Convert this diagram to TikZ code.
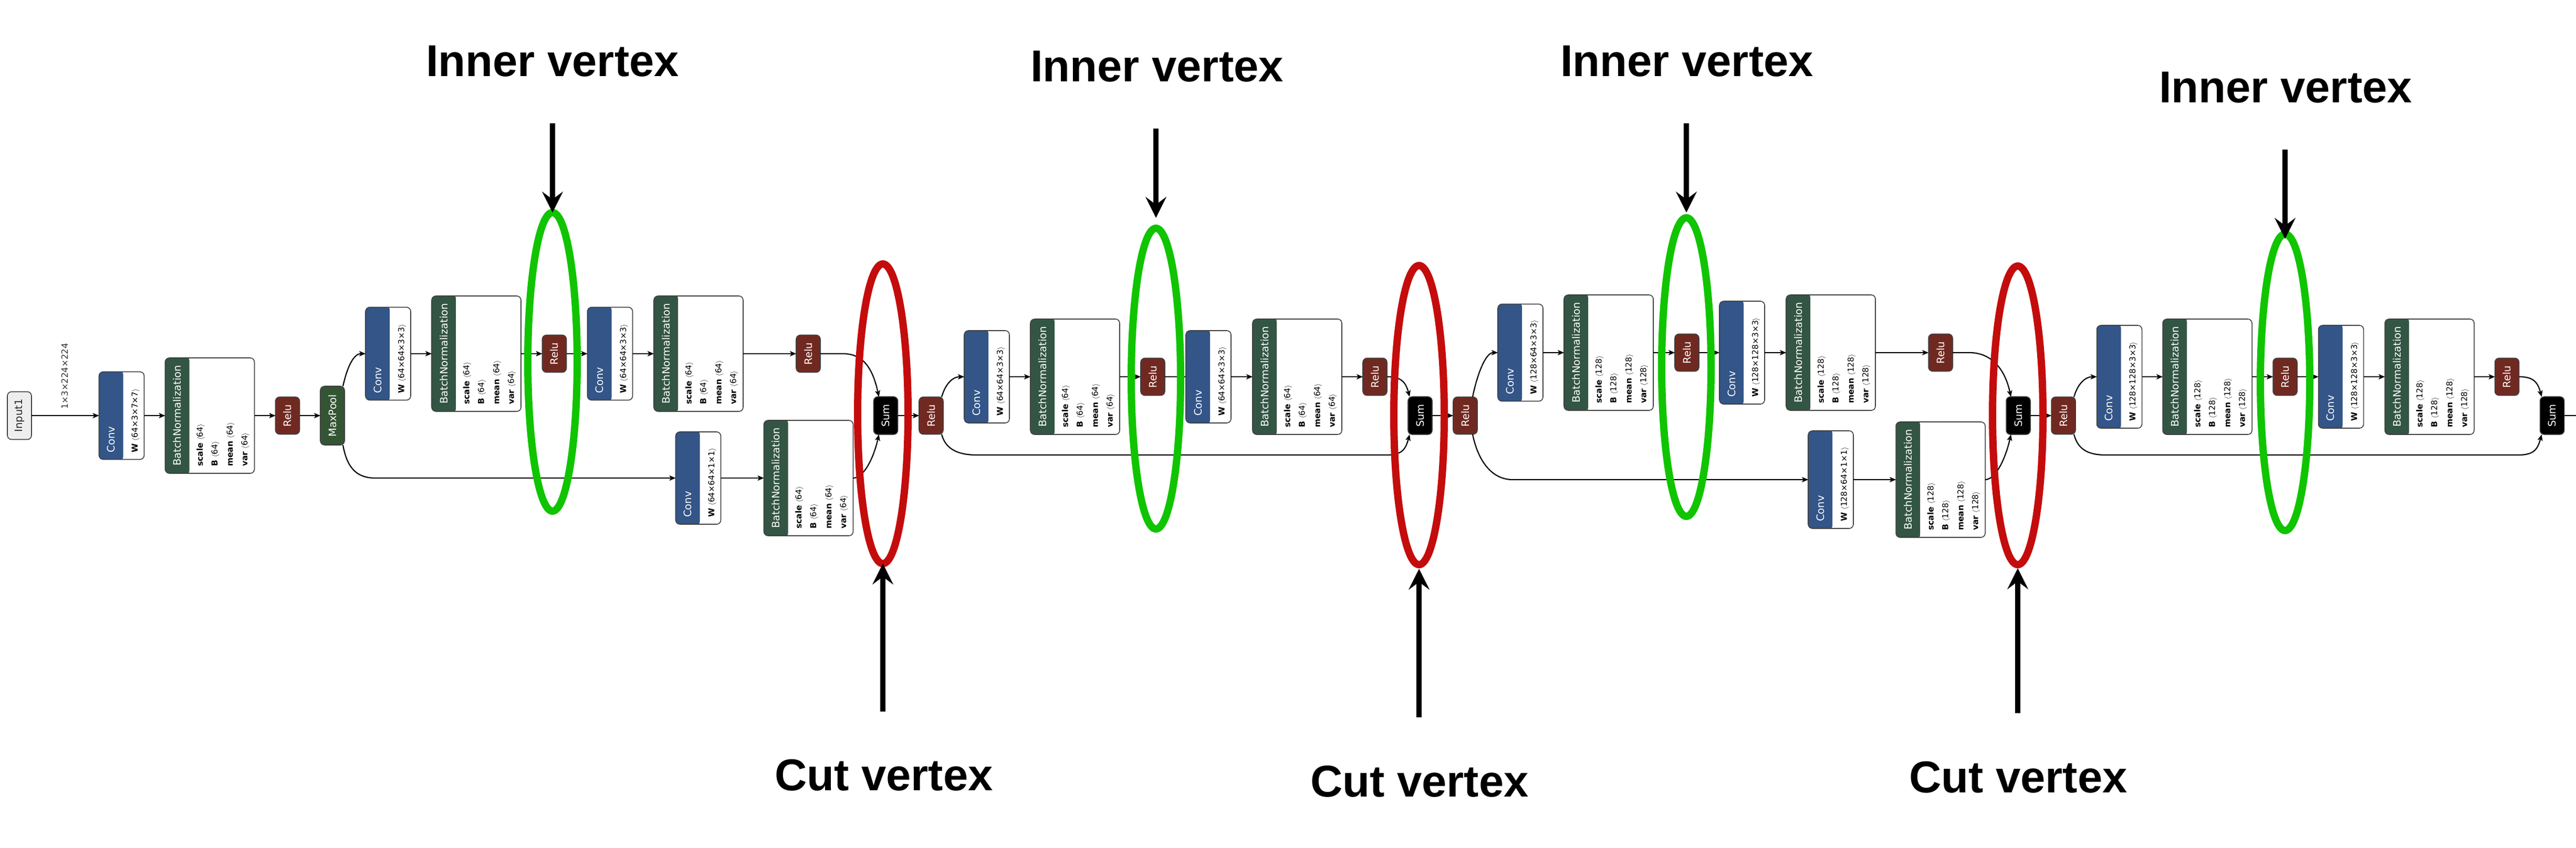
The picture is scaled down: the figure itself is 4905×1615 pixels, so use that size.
\documentclass[tikz,border=0pt]{standalone}
\usepackage{fontspec}
\usepackage{graphicx}
\usetikzlibrary{arrows.meta,calc,shapes.geometric}
\setmainfont{DejaVu Sans}
\newfontfamily\nfont{DejaVu Sans}
\newfontfamily\lblfont{Liberation Sans}
\definecolor{convcol}{RGB}{51,85,136}
\definecolor{bncol}{RGB}{51,85,68}
\definecolor{relucol}{RGB}{112,41,33}
\definecolor{poolcol}{RGB}{51,85,51}
\definecolor{nborder}{RGB}{64,64,64}
\definecolor{inputfill}{RGB}{238,238,238}
\definecolor{ringgreen}{RGB}{16,196,0}
\definecolor{ringred}{RGB}{196,12,12}
\newcommand\htfont{\nfont\fontsize{19.5}{23}\selectfont}
\newcommand\atfont{\nfont\fontsize{15.5}{18}\selectfont}
\newcommand\shfont{\nfont\fontsize{16.5}{20}\selectfont}
\newcommand\biglblfont{\lblfont\bfseries\fontsize{85}{100}\selectfont}
\tikzset{
  opbox/.style={draw=nborder, line width=1.6pt, rounded corners=8pt, inner sep=0pt, outer sep=0pt, fill=white},
  hdr/.style={path picture={\fill[#1] ([xshift=-3pt,yshift=-3pt]path picture bounding box.south west) rectangle ([xshift=46pt,yshift=3pt]path picture bounding box.north west);}},
  smallbox/.style={opbox, minimum width=46pt, minimum height=71pt, text=white, font=\htfont},
  htext/.style={text=white, font=\htfont, inner sep=0pt},
  atext/.style={text=black, font=\atfont, inner sep=0pt},
  edge/.style={line width=2.2pt, draw=black, -{Stealth[length=12pt,width=10pt,inset=3pt,line width=0.5pt]}},
  plainedge/.style={line width=2.2pt, draw=black},
  bigarrow/.style={line width=10pt, draw=black, -{Stealth[length=40pt,width=40pt,inset=15pt,line width=0.5pt]}},
  ringg/.style={ellipse, draw=ringgreen, line width=14pt, inner sep=0pt, outer sep=0pt, minimum width=94pt},
  ringr/.style={ellipse, draw=ringred, line width=14pt, inner sep=0pt, outer sep=0pt, minimum width=96pt},
  biglbl/.style={font=\biglblfont, inner sep=0pt, text=black},
}
\newcommand\convnode[5]{%
  \node[opbox, hdr=convcol, minimum width=86pt, minimum height=#4pt] (#1) at (#2,#3) {};
  \node[htext, rotate=90, anchor=west] (#1-h) at ($(#1.south west)+(23,-13)$) {Conv};
  \node[atext, rotate=90, anchor=base west] (#1-w) at ($(#1.south west)+(73.5,-13)$) {\textbf{W}\,\,$\langle$#5$\rangle$};
}
\newcommand\bnnode[4]{%
  \node[opbox, hdr=bncol, minimum width=170pt, minimum height=220pt] (#1) at (#2,#3) {};
  \node[htext, rotate=90, anchor=west] (#1-h) at ($(#1.south west)+(23,-14)$) {BatchNormalization};
  \foreach \nm/\off in {scale/71.5,B/99.5,mean/128.5,var/156.5}
    \node[atext, rotate=90, anchor=base west] (#1-\nm) at ($(#1.south west)+(\off,-13)$) {\textbf{\nm}\,\,$\langle$#4$\rangle$};
}
\newcommand\relunode[3]{\node[smallbox, fill=relucol] (#1) at (#2,#3) {\rotatebox{90}{Relu}};}
\newcommand\sumnode[3]{\node[smallbox, fill=black, minimum height=72pt] (#1) at (#2,#3) {\rotatebox{90}{Sum}};}
\begin{document}
\begin{tikzpicture}[x=1pt, y=-1pt]
\useasboundingbox (0,0) rectangle (4905,1615);
% ---------- stem ----------
\node[opbox, fill=inputfill, minimum width=46pt, minimum height=91pt, text=black!85, font=\htfont] (in1) at (37,792) {\rotatebox{90}{Input1}};
\node[font=\shfont, text=black!80, inner sep=0pt] (shp) at (123,717) {\rotatebox{90}{1×3×224×224}};
\convnode{conv1}{231.5}{792}{167}{64×3×7×7}
\bnnode{bn1}{399.5}{792}{64}
\relunode{relu1}{547.5}{792}
\node[smallbox, fill=poolcol, minimum height=112pt] (pool) at (633,792) {\rotatebox{90}{MaxPool}};
% ---------- block A ----------
\convnode{convA1}{739}{674}{177}{64×64×3×3}
\bnnode{bnA1}{907}{674}{64}
\relunode{reluA1}{1055.5}{674}
\convnode{convA2}{1161.5}{674}{177}{64×64×3×3}
\bnnode{bnA2}{1330}{674}{64}
\relunode{reluA2}{1539}{674}
\convnode{convA3}{1329.5}{911}{176}{64×64×1×1}
\bnnode{bnA3}{1539.5}{911}{64}
\sumnode{sumA}{1686.5}{792}
% ---------- block B ----------
\relunode{reluB0}{1773}{792}
\convnode{convB1}{1879}{718}{176}{64×64×3×3}
\bnnode{bnB1}{2047}{718}{64}
\relunode{reluB1}{2195}{718}
\convnode{convB2}{2301}{718}{176}{64×64×3×3}
\bnnode{bnB2}{2470}{718}{64}
\relunode{reluB2}{2618}{718}
\sumnode{sumB}{2704}{792}
% ---------- block C ----------
\relunode{reluC0}{2790}{792}
\convnode{convC1}{2895}{672}{185}{128×64×3×3}
\bnnode{bnC1}{3063}{672}{128}
\relunode{reluC1}{3212}{672}
\convnode{convC2}{3317}{672}{196}{128×128×3×3}
\bnnode{bnC2}{3486}{672}{128}
\relunode{reluC2}{3695}{672}
\convnode{convC3}{3486}{914}{186}{128×64×1×1}
\bnnode{bnC3}{3695}{914}{128}
\sumnode{sumC}{3843}{792}
% ---------- block D ----------
\relunode{reluD0}{3929}{792}
\convnode{convD1}{4035.5}{718}{196}{128×128×3×3}
\bnnode{bnD1}{4203}{718}{128}
\relunode{reluD1}{4351}{718}
\convnode{convD2}{4457.5}{718}{196}{128×128×3×3}
\bnnode{bnD2}{4626}{718}{128}
\relunode{reluD2}{4773.5}{718}
\sumnode{sumD}{4859.5}{792}
\coordinate (outpt) at (4905,792);
% ---------- straight edges ----------
\foreach \a/\b in {in1/conv1, conv1/bn1, bn1/relu1, relu1/pool,
  convA1/bnA1, bnA1/reluA1, reluA1/convA2, convA2/bnA2, bnA2/reluA2, convA3/bnA3, sumA/reluB0,
  convB1/bnB1, bnB1/reluB1, reluB1/convB2, convB2/bnB2, bnB2/reluB2, sumB/reluC0,
  convC1/bnC1, bnC1/reluC1, reluC1/convC2, convC2/bnC2, bnC2/reluC2, convC3/bnC3, sumC/reluD0,
  convD1/bnD1, bnD1/reluD1, reluD1/convD2, convD2/bnD2, bnD2/reluD2}
  \draw[edge] (\a.east) -- (\b.west);
\draw[plainedge] (sumD.east) -- (outpt);
% ---------- curved edges ----------
% block A
\draw[edge] ([xshift=-3pt]pool.north east) .. controls +(7,-32) and +(-24,0) .. (convA1.west);
\draw[edge] ([xshift=-3pt]pool.south east) .. controls +(8,45) and +(-35,0) .. (715,911) -- (convA3.west);
\draw[edge] (reluA2.east) -- (1605,674) .. controls +(38,0) and +(-12,-55) .. ([xshift=10pt]sumA.north west);
\draw[edge] (bnA3.east) .. controls +(20,0) and +(-10,45) .. ([xshift=10pt]sumA.south west);
% block B
\draw[edge] ([xshift=-3pt]reluB0.north east) .. controls +(8,-28) and +(-20,0) .. (convB1.west);
\draw[edge] ([xshift=-3pt]reluB0.south east) .. controls +(8,32) and +(-30,0) .. (1860,867) -- (2640,867) .. controls +(28,0) and +(-8,30) .. ([xshift=3pt]sumB.south west);
\draw[edge] (reluB2.east) .. controls +(25,0) and +(-8,-30) .. ([xshift=3pt]sumB.north west);
% block C
\draw[edge] ([xshift=-9pt]reluC0.north east) .. controls +(8,-40) and +(-24,0) .. (convC1.west);
\draw[edge] ([xshift=-9pt]reluC0.south east) .. controls +(10,50) and +(-40,0) .. (2880,914) -- (convC3.west);
\draw[edge] (reluC2.east) -- (3750,672) .. controls +(40,0) and +(-12,-55) .. ([xshift=9pt]sumC.north west);
\draw[edge] (bnC3.east) .. controls +(20,0) and +(-10,45) .. ([xshift=9pt]sumC.south west);
% block D
\draw[edge] ([xshift=-3pt]reluD0.north east) .. controls +(8,-28) and +(-20,0) .. (convD1.west);
\draw[edge] ([xshift=-3pt]reluD0.south east) .. controls +(8,32) and +(-30,0) .. (4010,867) -- (4795,867) .. controls +(28,0) and +(-8,30) .. ([xshift=3pt]sumD.south west);
\draw[edge] (reluD2.east) .. controls +(25,0) and +(-8,-30) .. ([xshift=3pt]sumD.north west);
% ---------- rings ----------
\node[ringg, minimum height=569pt] (g1) at (1052,689.5) {};
\node[ringr, minimum height=571pt] (r1) at (1681,788.5) {};
\node[ringg, minimum height=573pt] (g2) at (2201,721.5) {};
\node[ringr, minimum height=570pt] (r2) at (2702,791) {};
\node[ringg, minimum height=569pt] (g3) at (3211,699.5) {};
\node[ringr, minimum height=569pt] (r3) at (3842,791.5) {};
\node[ringg, minimum height=565pt] (g4) at (4351,728.5) {};
% ---------- annotation arrows ----------
\coordinate (ta1) at (1052,235);
\coordinate (ta2) at (2201,245);
\coordinate (ta3) at (3211,235);
\coordinate (ta4) at (4351,285);
\coordinate (tc1) at (1681,1356);
\coordinate (tc2) at (2702,1367);
\coordinate (tc3) at (3842,1359);
\draw[bigarrow] (ta1) -- (g1.north);
\draw[bigarrow] (ta2) -- ([yshift=20pt]g2.north);
\draw[bigarrow] (ta3) -- ([yshift=10pt]g3.north);
\draw[bigarrow] (ta4) -- ([yshift=-9pt]g4.north);
\draw[bigarrow] (tc1) -- (r1.south);
\draw[bigarrow] (tc2) -- ([yshift=-8pt]r2.south);
\draw[bigarrow] (tc3) -- ([yshift=-7pt]r3.south);
% ---------- labels ----------
\node[biglbl, anchor=base] (li1) at (1052,145) {Inner vertex};
\node[biglbl, anchor=base] (li2) at (2203,155) {Inner vertex};
\node[biglbl, anchor=base] (li3) at (3212,145) {Inner vertex};
\node[biglbl, anchor=base] (li4) at (4352,195) {Inner vertex};
\node[biglbl, anchor=base] (lc1) at (1683,1506) {Cut vertex};
\node[biglbl, anchor=base] (lc2) at (2703,1518) {Cut vertex};
\node[biglbl, anchor=base] (lc3) at (3843,1510) {Cut vertex};
\end{tikzpicture}
\end{document}
